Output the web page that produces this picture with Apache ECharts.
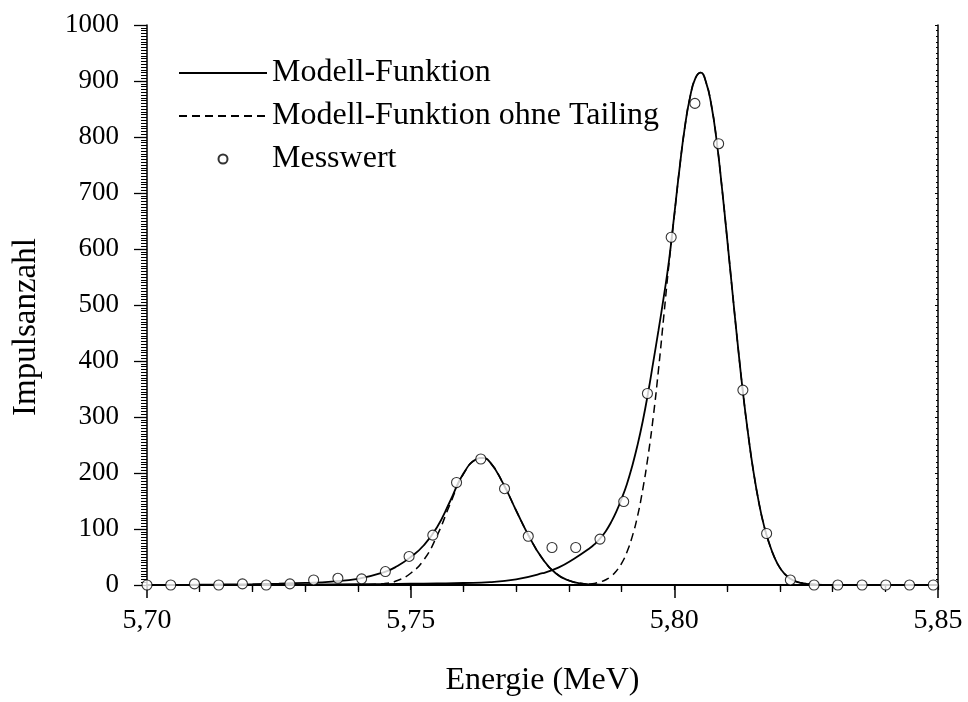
<!DOCTYPE html>
<html>
<head>
<meta charset="utf-8">
<script src="https://cdn.jsdelivr.net/npm/echarts@6/dist/echarts.min.js"></script>
<style>
  html, body { margin: 0; padding: 0; background: #fff; }
  #chart { width: 968px; height: 702px; }
</style>
</head>
<body>
<div id="chart"></div>
<script>
// energy grid + counts for the small peak (with / without tailing)
const smallE = [5.700, 5.705, 5.710, 5.715, 5.720, 5.725, 5.730, 5.735, 5.740, 5.745, 5.7475, 5.750, 5.7525, 5.755, 5.7575, 5.760, 5.7625, 5.7635, 5.765, 5.7675, 5.770, 5.7725, 5.775, 5.7775, 5.780, 5.7825, 5.785, 5.790, 5.850];
const smallTail = [0.2, 0.3, 0.5, 0.9, 1.5, 2.4, 3.8, 6.2, 11, 23, 34, 50, 71, 103, 150, 199, 225, 227, 220, 182, 133, 86, 47, 21, 8, 2.5, 0.7, 0, 0];
const smallGauss = [0, 0, 0, 0, 0, 0, 0, 0, 0.3, 2.5, 8, 21, 45, 88, 145, 198, 225, 227, 220, 182, 133, 86, 47, 21, 8, 2.5, 0.7, 0, 0];

// energy grid + counts for the main peak
const mainE = [5.700, 5.710, 5.720, 5.730, 5.740, 5.750, 5.755, 5.760, 5.765, 5.770, 5.775, 5.778, 5.781, 5.784,
  5.785, 5.786, 5.787, 5.788, 5.789, 5.790, 5.791, 5.792, 5.793, 5.794, 5.795,
  5.796, 5.797, 5.798, 5.799, 5.800, 5.801, 5.802, 5.803, 5.804, 5.805,
  5.806, 5.807, 5.808, 5.809, 5.810, 5.811, 5.812, 5.813, 5.814, 5.815,
  5.816, 5.817, 5.818, 5.819, 5.820, 5.821, 5.822, 5.823, 5.824, 5.825,
  5.827, 5.830, 5.835, 5.850];
const mainTail = [0, 0.2, 0.4, 0.8, 1.3, 2.2, 2.8, 3.6, 5, 10, 21, 31, 47, 66,
  74, 84, 96, 112, 131, 154, 180, 212, 249, 292, 342,
  398, 455, 515, 580, 662, 745, 818, 872, 905, 915,
  898, 858, 795, 712, 620, 525, 432, 345, 269, 203,
  149, 106, 74, 49, 31, 19, 11, 6.5, 3.8, 2.2,
  0.8, 0.2, 0, 0];
const mainGauss = [0, 0, 0, 0, 0, 0, 0, 0, 0, 0, 0, 0, 0.3, 1.8,
  3.2, 5.6, 9.4, 15.6, 25, 38.6, 58.5, 86, 122, 170, 229,
  300, 385, 480, 575, 660, 745, 818, 872, 905, 915,
  898, 858, 795, 712, 620, 525, 432, 345, 269, 203,
  149, 106, 74, 49, 31, 19, 11, 6.5, 3.8, 2.2,
  0.8, 0.2, 0, 0];

// measured points
const measE = [5.7000, 5.7045, 5.7090, 5.7136, 5.7181, 5.7226, 5.7271, 5.7316, 5.7362, 5.7407, 5.7452, 5.7497,
  5.7542, 5.7587, 5.7633, 5.7678, 5.7723, 5.7768, 5.7813, 5.7859, 5.7904, 5.7949, 5.7994, 5.8039,
  5.8084, 5.8130, 5.8175, 5.8220, 5.8265, 5.8310, 5.8356, 5.8401, 5.8446, 5.8491];
const measCounts = [0, 0, 2, 0, 2, 0, 2, 9, 12, 11, 24, 51,
  89, 183, 225, 172, 87, 67, 67, 82, 149, 342, 621, 860,
  788, 348, 92, 9, 0, 0, 0, 0, 0, 0];

const legendNames = ['Modell-Funktion', 'Modell-Funktion ohne Tailing', 'Messwert'];

const pairs = (xs, ys) => xs.map((x, i) => [x, ys[i]]);
const FONT = "'Liberation Serif', 'Times New Roman', serif";

const chart = echarts.init(document.getElementById('chart'), null, { renderer: 'canvas' });

const solid = { color: '#000', width: 1.8, type: 'solid' };
const dashed = { color: '#000', width: 1.5, type: [8, 5] };

function curve(name, data, style) {
  return {
    name: name,
    type: 'line',
    data: data,
    symbol: 'none',
    smooth: 0.5,
    lineStyle: style,
    itemStyle: { color: '#000' },
    z: 2
  };
}

const option = {
  animation: false,
  backgroundColor: '#fff',
  textStyle: { fontFamily: FONT, color: '#000' },
  grid: { left: 147, right: 30, top: 25, bottom: 116 },
  legend: {
    data: [
      { name: legendNames[0], itemStyle: { opacity: 0 } },
      { name: legendNames[1], itemStyle: { opacity: 0 } },
      { name: legendNames[2] }
    ],
    orient: 'vertical',
    left: 178,
    top: 57,
    padding: 0,
    itemWidth: 88,
    itemHeight: 9,
    itemGap: 11,
    selectedMode: false,
    textStyle: { fontFamily: FONT, fontSize: 32, lineHeight: 32, color: '#000' }
  },
  xAxis: [{
    type: 'value',
    position: 'bottom',
    min: 5.70,
    max: 5.85,
    interval: 0.05,
    name: 'Energie (MeV)',
    nameLocation: 'middle',
    nameGap: 80,
    nameTextStyle: { fontFamily: FONT, fontSize: 32, color: '#000' },
    axisLine: { lineStyle: { color: '#000', width: 2 } },
    axisTick: { inside: false, length: 13, lineStyle: { color: '#000', width: 1.5 } },
    minorTick: { show: true, splitNumber: 5, length: 7, lineStyle: { color: '#000', width: 1.3 } },
    splitLine: { show: false },
    axisLabel: {
      fontFamily: FONT, fontSize: 28, color: '#000', margin: 22,
      formatter: v => v.toFixed(2).replace('.', ',')
    }
  }, {
    type: 'value',
    position: 'top',
    min: 5.70,
    max: 5.85,
    interval: 0.01,
    axisLine: { lineStyle: { color: '#000', width: 1.5 } },
    axisTick: { inside: true, length: 5, lineStyle: { color: '#000', width: 1.2 } },
    axisLabel: { show: false },
    splitLine: { show: false }
  }],
  yAxis: [{
    type: 'value',
    position: 'left',
    min: 0,
    max: 1000,
    interval: 100,
    name: 'Impulsanzahl',
    nameLocation: 'middle',
    nameRotate: 90,
    nameGap: 104,
    nameTextStyle: { fontFamily: FONT, fontSize: 33, color: '#000', padding: [0, 44, 0, 0] },
    axisLine: { lineStyle: { color: '#000', width: 1.5 } },
    axisTick: { inside: false, length: 13, lineStyle: { color: '#000', width: 1.3 } },
    minorTick: { show: true, splitNumber: 20, length: 6, lineStyle: { color: '#000', width: 1 } },
    splitLine: { show: false },
    axisLabel: { fontFamily: FONT, fontSize: 27, color: '#000', margin: 28, formatter: v => String(v) }
  }, {
    type: 'value',
    position: 'right',
    min: 0,
    max: 1000,
    interval: 100,
    axisLine: { lineStyle: { color: '#000', width: 1.5 } },
    axisTick: { inside: true, length: 3, lineStyle: { color: '#000', width: 1 } },
    minorTick: { show: true, splitNumber: 10, length: 2, lineStyle: { color: '#000', width: 1 } },
    axisLabel: { show: false },
    splitLine: { show: false }
  }],
  series: [
    curve(legendNames[0], pairs(smallE, smallTail), solid),
    curve(legendNames[0], pairs(mainE, mainTail), solid),
    curve(legendNames[1], pairs(smallE, smallGauss), dashed),
    curve(legendNames[1], pairs(mainE, mainGauss), dashed),
    {
      name: legendNames[2],
      type: 'scatter',
      data: pairs(measE, measCounts),
      symbol: 'circle',
      symbolSize: 10,
      itemStyle: { color: '#fff', borderColor: '#000', borderWidth: 1.1 },
      z: 5
    }
  ]
};

chart.setOption(option);
</script>
</body>
</html>
